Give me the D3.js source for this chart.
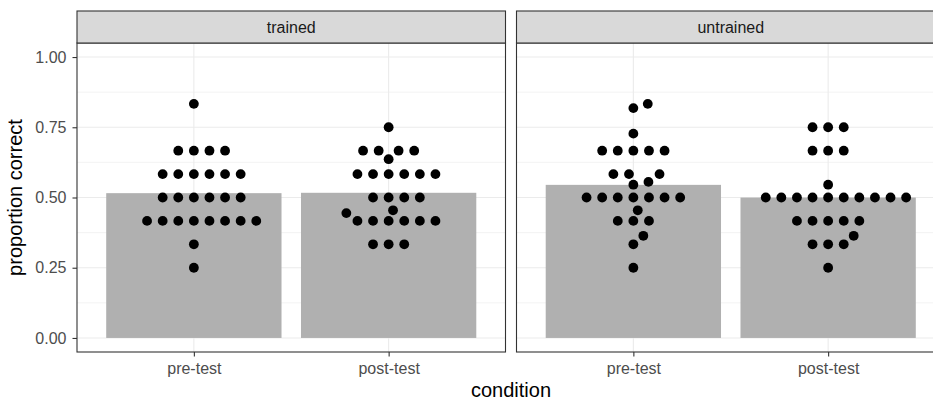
<!DOCTYPE html>
<html>
<head>
<meta charset="utf-8">
<script src="https://cdn.jsdelivr.net/npm/d3@7"></script>
<style>
  html, body { margin: 0; padding: 0; background: #fff; }
  svg { display: block; font-family: "Liberation Sans", Arial, sans-serif; }
</style>
</head>
<body>
<svg id="chart" width="933" height="401"></svg>
<script>
// Facets, conditions and per-participant proportion-correct scores
const groups = ["trained", "untrained"];
const conditions = ["pre-test", "post-test"];

const trainedPre = [
  0.8333,
  0.6667, 0.6667, 0.6667, 0.6667,
  0.5833, 0.5833, 0.5833, 0.5833, 0.5833, 0.5833,
  0.5, 0.5, 0.5, 0.5, 0.5, 0.5,
  0.4167, 0.4167, 0.4167, 0.4167, 0.4167, 0.4167, 0.4167, 0.4167,
  0.3333,
  0.25
];
const trainedPost = [
  0.75,
  0.6667, 0.6667, 0.6667, 0.6667,
  0.6364,
  0.5833, 0.5833, 0.5833, 0.5833, 0.5833, 0.5833,
  0.5, 0.5, 0.5, 0.5,
  0.4545,
  0.4444,
  0.4167, 0.4167, 0.4167, 0.4167, 0.4167, 0.4167,
  0.3333, 0.3333, 0.3333
];
const untrainedPre = [
  0.8333,
  0.8182,
  0.7273,
  0.6667, 0.6667, 0.6667, 0.6667, 0.6667,
  0.5833, 0.5833, 0.5833,
  0.5556,
  0.5455,
  0.5, 0.5, 0.5, 0.5, 0.5, 0.5, 0.5,
  0.4545,
  0.4167, 0.4167, 0.4167,
  0.3636,
  0.3333,
  0.25
];
const untrainedPost = [
  0.75, 0.75, 0.75,
  0.6667, 0.6667, 0.6667,
  0.5455,
  0.5, 0.5, 0.5, 0.5, 0.5, 0.5, 0.5, 0.5, 0.5, 0.5,
  0.4167, 0.4167, 0.4167, 0.4167, 0.4167,
  0.3636,
  0.3333, 0.3333, 0.3333,
  0.25
];
const yTicks = [0, 0.25, 0.5, 0.75, 1];
const yMinor = [0.125, 0.375, 0.625, 0.875];

const scores = {
  "trained":   { "pre-test": trainedPre,   "post-test": trainedPost },
  "untrained": { "pre-test": untrainedPre, "post-test": untrainedPost }
};

// ---- layout ----
const svg = d3.select("#chart");
const panelTop = 43, panelBottom = 352, stripH = 32;
const panelW = 428.5, panelGap = 11, firstLeft = 77;
const dotR = 4.9, dotSpacing = 15.6, yAspect = 1.41;

const y = d3.scaleLinear().domain([-0.05, 1.05]).range([panelBottom, panelTop]);

svg.append("rect").attr("width", 933).attr("height", 401).attr("fill", "#fff");

// Beeswarm placement: points taken in ascending order, each put at the
// horizontal offset closest to the centre that does not collide.
function swarm(values) {
  const placed = [];
  const sorted = values.slice().sort((a, b) => a - b);
  const D2 = dotSpacing * dotSpacing;
  for (const v of sorted) {
    const py = y(v);
    const cands = [0];
    for (const p of placed) {
      const dy = (py - p.py) * yAspect;
      if (Math.abs(dy) < dotSpacing) {
        const h = Math.sqrt(D2 - dy * dy);
        cands.push(p.dx + h, p.dx - h);
      }
    }
    const ok = cands.filter(c => placed.every(p => {
      const dy = (py - p.py) * yAspect;
      return (c - p.dx) * (c - p.dx) + dy * dy >= D2 - 1e-6;
    }));
    ok.sort((a, b) => (Math.abs(a) - Math.abs(b)) || (b - a));
    placed.push({ v, py, dx: ok[0] });
  }
  return placed;
}

groups.forEach((g, gi) => {
  const left = firstLeft + gi * (panelW + panelGap);
  const right = left + panelW;
  const x = d3.scalePoint().domain(conditions).range([left, right]).padding(0.6);
  const barW = x.step() * 0.9;

  const panel = svg.append("g");

  // panel background + grid
  panel.append("rect").attr("x", left).attr("y", panelTop)
    .attr("width", panelW).attr("height", panelBottom - panelTop).attr("fill", "#fff");
  panel.selectAll(".minor").data(yMinor).join("line")
    .attr("x1", left).attr("x2", right)
    .attr("y1", d => y(d)).attr("y2", d => y(d))
    .attr("stroke", "#EBEBEB").attr("stroke-width", 0.6);
  panel.selectAll(".major").data(yTicks).join("line")
    .attr("x1", left).attr("x2", right)
    .attr("y1", d => y(d)).attr("y2", d => y(d))
    .attr("stroke", "#EBEBEB").attr("stroke-width", 1.1);
  panel.selectAll(".vmajor").data(conditions).join("line")
    .attr("x1", d => x(d)).attr("x2", d => x(d))
    .attr("y1", panelTop).attr("y2", panelBottom)
    .attr("stroke", "#EBEBEB").attr("stroke-width", 1.1);

  // mean bars
  panel.selectAll(".bar").data(conditions).join("rect")
    .attr("x", d => x(d) - barW / 2)
    .attr("width", barW)
    .attr("y", d => y(d3.mean(scores[g][d])))
    .attr("height", d => y(0) - y(d3.mean(scores[g][d])))
    .attr("fill", "#B0B0B0");

  // dots
  conditions.forEach(c => {
    const pts = swarm(scores[g][c]);
    panel.append("g").selectAll("circle").data(pts).join("circle")
      .attr("cx", d => x(c) + d.dx)
      .attr("cy", d => d.py)
      .attr("r", dotR)
      .attr("fill", "#000");
  });

  // panel border
  panel.append("rect").attr("x", left).attr("y", panelTop)
    .attr("width", panelW).attr("height", panelBottom - panelTop)
    .attr("fill", "none").attr("stroke", "#333333").attr("stroke-width", 1.1);

  // strip
  panel.append("rect").attr("x", left).attr("y", panelTop - stripH)
    .attr("width", panelW).attr("height", stripH)
    .attr("fill", "#D9D9D9").attr("stroke", "#333333").attr("stroke-width", 1.1);
  panel.append("text")
    .attr("x", (left + right) / 2).attr("y", panelTop - stripH / 2)
    .attr("dy", "0.36em")
    .attr("text-anchor", "middle")
    .attr("font-size", 16).attr("fill", "#1A1A1A")
    .text(g);

  // x axis
  const xAxis = svg.append("g").attr("transform", `translate(0,${panelBottom})`)
    .call(d3.axisBottom(x).tickSize(4.5).tickPadding(6));
  xAxis.select(".domain").remove();
  xAxis.selectAll(".tick line").attr("stroke", "#333333").attr("stroke-width", 1.1);
  xAxis.selectAll(".tick text").attr("fill", "#4D4D4D").attr("font-size", 16)
    .attr("font-family", "Liberation Sans, Arial, sans-serif");

  // y axis only on the first panel
  if (gi === 0) {
    const yAxis = svg.append("g").attr("transform", `translate(${left},0)`)
      .call(d3.axisLeft(y).tickValues(yTicks).tickFormat(d3.format(".2f"))
        .tickSize(4.5).tickPadding(6));
    yAxis.select(".domain").remove();
    yAxis.selectAll(".tick line").attr("stroke", "#333333").attr("stroke-width", 1.1);
    yAxis.selectAll(".tick text").attr("fill", "#4D4D4D").attr("font-size", 16)
      .attr("font-family", "Liberation Sans, Arial, sans-serif");
  }
});

// axis titles
svg.append("text")
  .attr("x", firstLeft + (2 * panelW + panelGap) / 2).attr("y", 397)
  .attr("text-anchor", "middle").attr("font-size", 20).attr("fill", "#000")
  .text("condition");
svg.append("text")
  .attr("transform", `translate(22,${(panelTop + panelBottom) / 2}) rotate(-90)`)
  .attr("text-anchor", "middle").attr("font-size", 20).attr("fill", "#000")
  .text("proportion correct");
</script>
</body>
</html>
